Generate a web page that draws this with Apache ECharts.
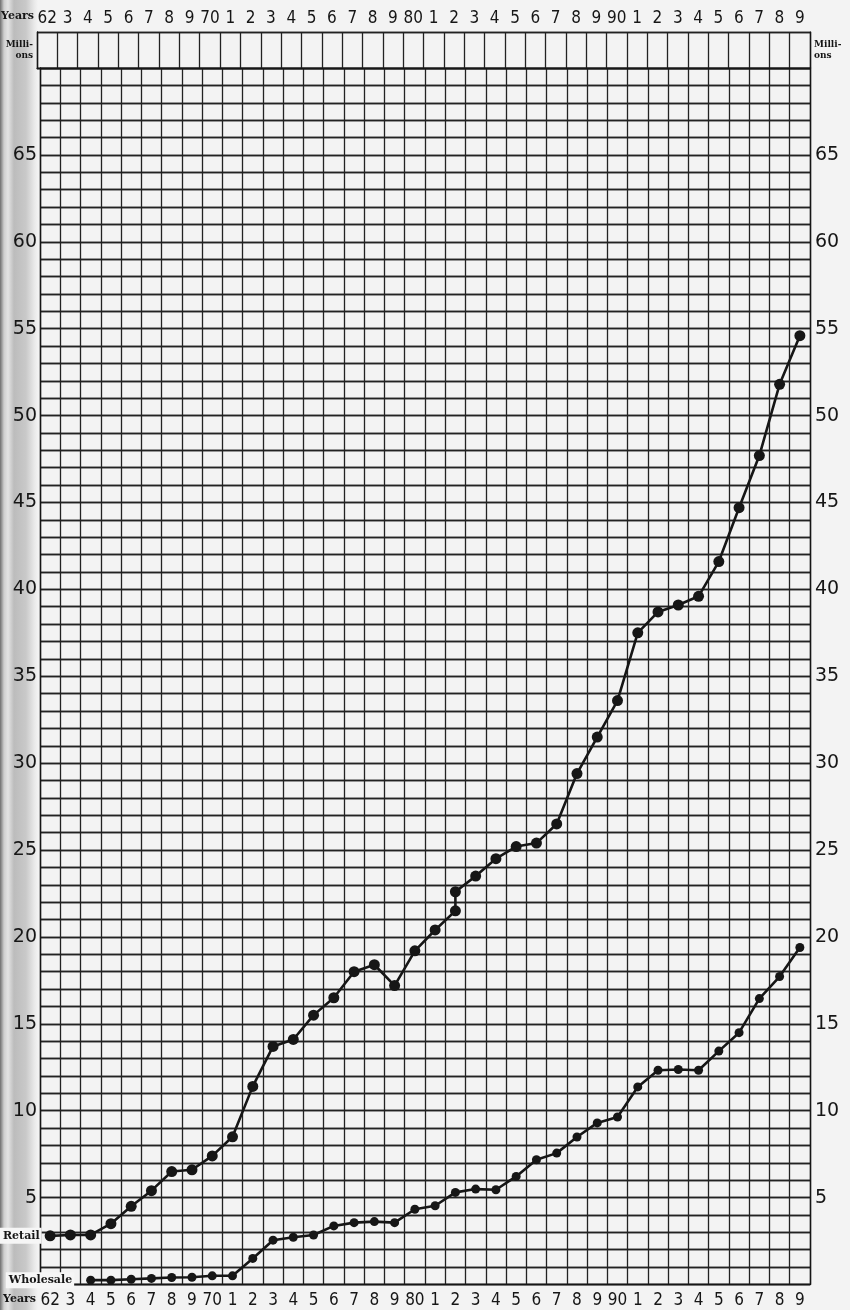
<!DOCTYPE html>
<html>
<head>
<meta charset="utf-8">
<script src="https://cdn.jsdelivr.net/npm/echarts@6/dist/echarts.min.js"></script>
<style>
  html, body { margin: 0; padding: 0; }
  body {
    width: 850px; height: 1310px;
    background: linear-gradient(to right, #6f6f6f 0px, #cfcfcf 4px, #e4e4e4 8px, #bcbcbc 14px, #c9c9c9 26px, #e8e8e8 34px, #f3f3f3 38px);
  }
  #chart { width: 850px; height: 1310px; }
</style>
</head>
<body>
<div id="chart"></div>
<script>
/* Retail and wholesale sales, millions, 1862-1899 */

const years = [1862, 1863, 1864, 1865, 1866, 1867, 1868, 1869, 1870, 1871,
  1872, 1873, 1874, 1875, 1876, 1877, 1878, 1879, 1880, 1881,
  1882, 1883, 1884, 1885, 1886, 1887, 1888, 1889, 1890, 1891,
  1892, 1893, 1894, 1895, 1896, 1897, 1898, 1899];
const yearLabels = ["62", "3", "4", "5", "6", "7", "8", "9", "70", "1",
  "2", "3", "4", "5", "6", "7", "8", "9", "80", "1",
  "2", "3", "4", "5", "6", "7", "8", "9", "90", "1",
  "2", "3", "4", "5", "6", "7", "8", "9"];
const valueLabels = [5, 10, 15, 20, 25, 30, 35, 40, 45, 50, 55, 60, 65];

// 1882 is plotted twice on the retail line
const retailYears = [1862, 1863, 1864, 1865, 1866, 1867, 1868, 1869, 1870, 1871,
  1872, 1873, 1874, 1875, 1876, 1877, 1878, 1879, 1880, 1881,
  1882, 1882, 1883, 1884, 1885, 1886, 1887, 1888, 1889, 1890,
  1891, 1892, 1893, 1894, 1895, 1896, 1897, 1898, 1899];
const retailValues = [2.8, 2.85, 2.85, 3.5, 4.5, 5.4, 6.5, 6.6, 7.4, 8.5,
  11.4, 13.7, 14.1, 15.5, 16.5, 18.0, 18.4, 17.2, 19.2, 20.4,
  21.5, 22.6, 23.5, 24.5, 25.2, 25.4, 26.5, 29.4, 31.5, 33.6,
  37.5, 38.7, 39.1, 39.6, 41.6, 44.7, 47.7, 51.8, 54.6];

const wholesaleYears = [1864, 1865, 1866, 1867, 1868, 1869, 1870, 1871,
  1872, 1873, 1874, 1875, 1876, 1877, 1878, 1879, 1880, 1881,
  1882, 1883, 1884, 1885, 1886, 1887, 1888, 1889, 1890, 1891,
  1892, 1893, 1894, 1895, 1896, 1897, 1898, 1899];
const wholesaleValues = [0.25, 0.25, 0.3, 0.35, 0.4, 0.42, 0.5, 0.5,
  1.5, 2.55, 2.72, 2.85, 3.37, 3.56, 3.62, 3.56, 4.33, 4.53,
  5.3, 5.49, 5.45, 6.22, 7.18, 7.56, 8.49, 9.3, 9.64, 11.37,
  12.33, 12.37, 12.33, 13.43, 14.49, 16.45, 17.72, 19.39];

// ------------- styles -------------
const INK = "#161616";
const GRID_LINE = {show: true, lineStyle: {color: "#222", width: 1.3}};
const YEAR_FONT = '"Liberation Sans Narrow", "DejaVu Sans Condensed", "Roboto Condensed", Roboto, sans-serif';
const NUM_FONT = '"DejaVu Sans", Verdana, sans-serif';
const TAG_FONT = '"DejaVu Serif", "Liberation Serif", serif';

function toPairs(xs, vs) {
  return xs.map((y, i) => [String(y), vs[i]]);
}
function seriesTag(text, dist) {
  return {
    show: true, position: "left", distance: dist, formatter: text,
    fontFamily: TAG_FONT, fontWeight: "bold", fontSize: 11, color: INK,
    backgroundColor: "#f6f6f6", padding: [3, 2, 2, 3],
  };
}
function lineSeries(name, xs, vs, tagDist, size) {
  const data = toPairs(xs, vs).map(v => ({value: v}));
  data[0].label = seriesTag(name, tagDist);
  return {
    name: name, type: "line", xAxisIndex: 0, yAxisIndex: 0,
    data: data, symbol: "circle", symbolSize: size,
    itemStyle: {color: INK}, lineStyle: {color: INK, width: 2.6},
    label: {show: false}, animation: false, z: 5,
  };
}

const catData = years.map(String);
const valueAxis = (pos) => ({
  type: "value", gridIndex: 0, position: pos, min: 0, max: 70, interval: 1,
  axisLine: {show: true, lineStyle: {color: INK, width: 1.4}},
  axisTick: {show: false},
  splitLine: GRID_LINE,
  axisLabel: {
    margin: pos === "left" ? 3 : 5,
    fontFamily: NUM_FONT, fontSize: 19, color: INK,
    formatter: v => valueLabels.includes(v) ? String(v) : "",
  },
});
const millionsName = (pos) => ({
  type: "value", gridIndex: 1, position: pos, min: 0, max: 1, interval: 1,
  axisLine: {show: true, lineStyle: {color: INK, width: 1.4}},
  axisTick: {show: false}, axisLabel: {show: false},
  splitLine: GRID_LINE,
  name: "Milli-\nons", nameLocation: "middle", nameRotate: 0, nameGap: 4,
  nameMoveOverlap: false,
  nameTextStyle: {fontFamily: TAG_FONT, fontWeight: "bold", fontSize: 9, lineHeight: 11, color: INK,
    align: pos === "left" ? "right" : "left"},
});
const yearAxis = (grid, pos) => ({
  type: "category", gridIndex: grid, position: pos, data: catData,
  axisLine: {show: true, lineStyle: {color: INK, width: 1.4}},
  axisTick: {show: false},
  splitLine: GRID_LINE,
  axisLabel: {
    interval: 0, margin: pos === "top" ? 5 : 8,
    fontFamily: YEAR_FONT, fontSize: 17, color: INK,
    formatter: (v, i) => yearLabels[i],
  },
});

const bottomAxis = yearAxis(0, "bottom");
Object.assign(bottomAxis, {
  name: "Years", nameLocation: "start", nameGap: 4, nameMoveOverlap: false,
  nameTextStyle: {
    fontFamily: TAG_FONT, fontWeight: "bold", fontSize: 11, color: INK,
    verticalAlign: "top", padding: [9, 0, 0, 0],
  },
});

const chart = echarts.init(document.getElementById("chart"), null, {renderer: "canvas"});
chart.setOption({
  backgroundColor: "transparent",
  animation: false,
  grid: [
    {left: 37, right: 40, top: 68, bottom: 25.5},
    {left: 37, right: 40, top: 32, height: 36},
  ],
  xAxis: [bottomAxis, yearAxis(1, "top")],
  yAxis: [valueAxis("left"), valueAxis("right"), millionsName("left"), millionsName("right")],
  graphic: [{
    type: "text", left: 1, top: 11,
    style: {text: "Years", fontFamily: TAG_FONT, fontWeight: "bold", fontSize: 11, fill: INK},
  }],
  series: [
    lineSeries("Retail", retailYears, retailValues, 3, 11),
    lineSeries("Wholesale", wholesaleYears, wholesaleValues, 12, 9),
  ],
});
window.addEventListener("resize", () => chart.resize());
</script>
</body>
</html>
